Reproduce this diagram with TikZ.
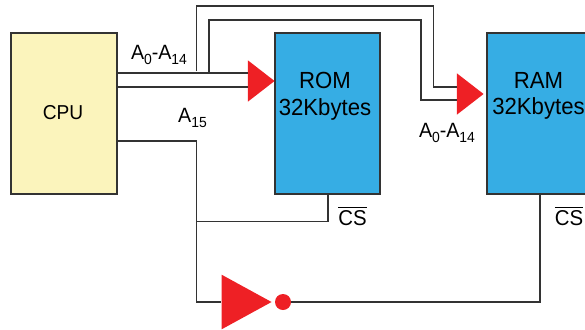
\documentclass[tikz,border=0pt]{standalone}
\usepackage{amsmath}
\usepackage{fontspec}
\usepackage{xcolor}
\usetikzlibrary{shapes.geometric}
\setmainfont[FakeStretch=0.95]{Liberation Sans}
\definecolor{cpuyellow}{HTML}{FBF4BC}
\definecolor{memblue}{HTML}{36ADE4}
\definecolor{gatered}{HTML}{EE2025}
\definecolor{wiregray}{HTML}{333333}
\newcommand{\lowidx}[1]{\raisebox{-3.6pt}{\fontsize{11}{11}\selectfont #1}}
\tikzset{
  box/.style={draw=wiregray, line width=1.3pt, inner sep=0pt},
  wire/.style={draw=wiregray, line width=1.3pt},
  buffer/.style={isosceles triangle, isosceles triangle apex angle=74, isosceles triangle stretches, fill=gatered, inner sep=0pt, anchor=apex},
  txt/.style={font=\fontsize{15.5}{20}\selectfont, text=black, inner sep=0pt, align=center},
  memtxt/.style={txt, font=\fontsize{17.5}{20}\selectfont},
}
\begin{document}
\begin{tikzpicture}[x=0.75pt,y=-0.75pt]
\clip (0,0) rectangle (585,329);
 \begin{scope}[every node/.style={box}]
  \node[fill=cpuyellow, minimum width=80pt, minimum height=120.5pt] (cpu) at (64,113.5) {};
  \node[fill=memblue, minimum width=78.75pt, minimum height=120.5pt] (rom) at (327.5,113.5) {};
  \node[fill=memblue, minimum width=78.75pt, minimum height=120.5pt] (ram) at (539.5,113.5) {};
 \end{scope}
  % end points of the buses
  \coordinate (bus1) at (117,73);
  \coordinate (bus2) at (117,87);
  \coordinate (sel) at (117,141);
  \coordinate (tap1) at (196.5,71);
  \coordinate (tap2) at (209,73);
  \coordinate (csrom) at (328,194);
  \coordinate (csram) at (540,194);
 \begin{scope}[every node/.style={buffer}]
  \node[minimum width=31pt, minimum height=20pt] (rombuf) at (275,81) {};
  \node[minimum width=31pt, minimum height=20pt] (rambuf) at (484,94) {};
  \node[minimum width=41pt, minimum height=37.5pt] (inv) at (272,302) {};
 \end{scope}
  \node[circle, fill=gatered, inner sep=0pt, minimum size=12pt] (dot) at (283,302) {};
  \path [wire] (bus1) -- (rombuf.west |- bus1);
  \path [wire] (bus2) -- (rombuf.west |- bus2);
  \path [wire] (tap1) -- (196.5,6) -- (433.5,6) -- (433.5,87) -- (rambuf.west |- 0,87);
  \path [wire] (tap2) -- (209,20) -- (421,20) -- (421,100) -- (rambuf.west |- 0,100);
  \path [wire] (sel) -- (196.5,141) -- (196.5,302) -- (inv.west);
  \path [wire] (csrom) -- (328,221.5) -- (196.5,221.5);
  \path [wire] (dot.east) -- (540,302) -- (csram);
  \node[txt, font=\fontsize{15.1}{20}\selectfont] (cpulabel) at (63,113) {CPU};
  \node[memtxt] (romlabel) at (325,96) {ROM\\32Kbytes};
  \node[memtxt] (ramlabel) at (538.5,96) {RAM\\32Kbytes};
  \node[txt] (addr1) at (159,55) {A\lowidx{0}-A\lowidx{14}};
  \node[txt] (addr2) at (447,133) {A\lowidx{0}-A\lowidx{14}};
  \node[txt] (a15) at (192.5,118) {A\lowidx{15}};
  \node[txt, font=\fontsize{16.1}{20}\selectfont] (cs1) at (352.5,216) {$\overline{\mbox{CS}}$};
  \node[txt, font=\fontsize{16.1}{20}\selectfont] (cs2) at (569,216) {$\overline{\mbox{CS}}$};
\end{tikzpicture}
\end{document}
